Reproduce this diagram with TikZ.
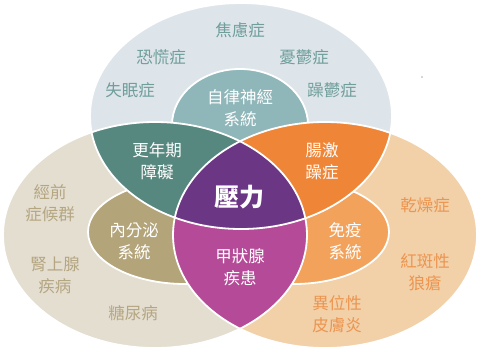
\documentclass[tikz,border=0pt]{standalone}
\usepackage{fontspec}
\newfontfamily\cjk{Noto Sans CJK TC}
\definecolor{topbg}{HTML}{DEE5EA}
\definecolor{leftbg}{HTML}{E4DED1}
\definecolor{rightbg}{HTML}{F2D0A8}
\definecolor{ansin}{HTML}{8FB6B9}
\definecolor{endo}{HTML}{B3A47A}
\definecolor{immu}{HTML}{F2A25A}
\definecolor{tealc}{HTML}{57887F}
\definecolor{orangec}{HTML}{EF8536}
\definecolor{magc}{HTML}{B54B98}
\definecolor{purc}{HTML}{6B3683}
\definecolor{toptxt}{HTML}{6F9E9B}
\definecolor{lefttxt}{HTML}{B5A682}
\definecolor{righttxt}{HTML}{EC9550}
\tikzset{
  wline/.style={draw=white, line width=1.8pt},
  lbl/.style={font=\cjk\fontsize{16.5}{22}\selectfont, align=center, inner sep=0pt},
  toplbl/.style={lbl, text=toptxt},
  leftlbl/.style={lbl, text=lefttxt},
  rightlbl/.style={lbl, text=righttxt},
  inlbl/.style={lbl, text=white},
}
\begin{document}
\begin{tikzpicture}[x=1pt,y=-1pt]
\useasboundingbox (0,0) rectangle (479,362);
\def\TopE{(241,116) ellipse [x radius=151pt, y radius=113pt]}
\def\LeftE{(155,235) ellipse [x radius=152pt, y radius=113pt]}
\def\RightE{(325,235) ellipse [x radius=152pt, y radius=113pt]}
% big ellipses
\fill[topbg] \TopE;
\fill[leftbg] \LeftE;
\fill[rightbg] \RightE;
% inner ellipses
\filldraw[fill=ansin, wline] (240,125) ellipse [x radius=68pt, y radius=56pt];
\filldraw[fill=endo, wline] (185,232) ellipse [x radius=97pt, y radius=52pt];
\filldraw[fill=immu, wline] (294,232) ellipse [x radius=95pt, y radius=52pt];
% lenses
\begin{scope}\clip \TopE; \fill[tealc] \LeftE; \end{scope}
\begin{scope}\clip \TopE; \fill[orangec] \RightE; \end{scope}
\begin{scope}\clip \LeftE; \fill[magc] \RightE; \end{scope}
\begin{scope}\clip \TopE; \clip \LeftE; \fill[purc] \RightE; \end{scope}
% white outlines
\draw[wline] \TopE;
\draw[wline] \LeftE;
\draw[wline] \RightE;
% stray dot
\fill[black!70] (422,77) circle (0.7pt);
% top texts
\node[toplbl] (t1) at (240,30) {焦慮症};
\node[toplbl] (t2) at (161,57) {恐慌症};
\node[toplbl] (t3) at (304,57) {憂鬱症};
\node[toplbl] (t4) at (130,90) {失眠症};
\node[toplbl] (t5) at (332,90) {躁鬱症};
% left texts
\node[leftlbl] (l1) at (50,203) {經前\\症候群};
\node[leftlbl] (l2) at (55,275) {腎上腺\\疾病};
\node[leftlbl] (l3) at (133,313) {糖尿病};
% right texts
\node[rightlbl] (r1) at (425,205) {乾燥症};
\node[rightlbl] (r2) at (425,272) {紅斑性\\狼瘡};
\node[rightlbl] (r3) at (337,314) {異位性\\皮膚炎};
% inner texts
\node[inlbl] (i1) at (240,108) {自律神經\\系統};
\node[inlbl] (i2) at (157,161) {更年期\\障礙};
\node[inlbl] (i3) at (322,161) {腸激\\躁症};
\node[inlbl] (i4) at (134,241) {內分泌\\系統};
\node[inlbl] (i5) at (240,267) {甲狀腺\\疾患};
\node[inlbl] (i6) at (345,241) {免疫\\系統};
\node[inlbl, font=\cjk\bfseries\fontsize{25}{28}\selectfont] (c) at (239,197) {壓力};
\end{tikzpicture}
\end{document}
